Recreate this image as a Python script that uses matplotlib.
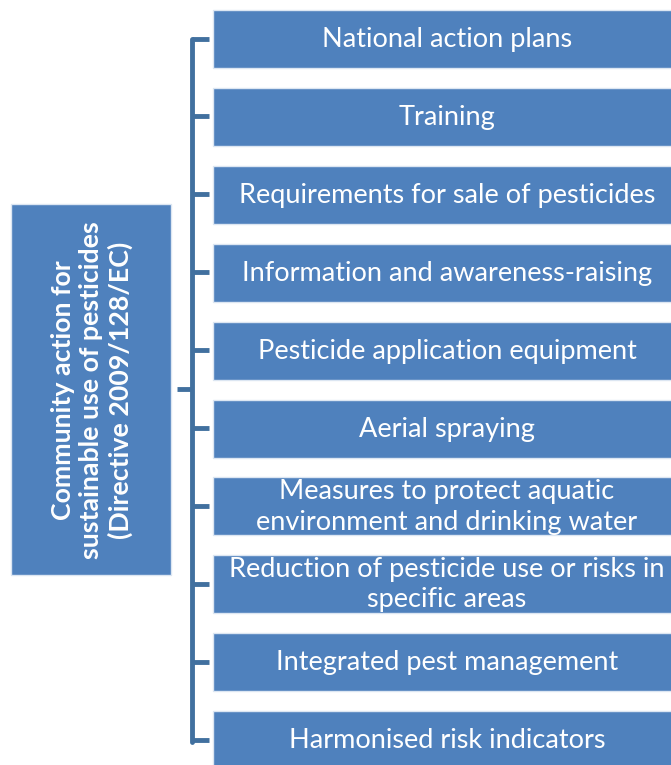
import matplotlib
matplotlib.use("Agg")
from matplotlib import pyplot as plt
from matplotlib.patches import Rectangle

plt.rcParams['font.family'] = ['Lato', 'DejaVu Sans']

# 数据
root_label = "Community action for\nsustainable use of pesticides\n(Directive 2009/128/EC)"
items = [
    "National action plans",
    "Training",
    "Requirements for sale of pesticides",
    "Information and awareness-raising",
    "Pesticide application equipment",
    "Aerial spraying",
    "Measures to protect aquatic\nenvironment and drinking water",
    "Reduction of pesticide use or risks in\nspecific areas",
    "Integrated pest management",
    "Harmonised risk indicators",
]

box_color = "#4F81BD"
edge_color = "#DCE6F2"
line_color = "#41709F"

W, H = 671, 765
fig = plt.figure(figsize=(W / 100, H / 100), dpi=100)
ax = fig.add_axes([0, 0, 1, 1])
ax.set_xlim(0, W)
ax.set_ylim(H, 0)
ax.axis("off")

# 右侧方框
top0, pitch, bh = 10, 77.9, 58
bx = 213
centers = []
for i, txt in enumerate(items):
    y = top0 + i * pitch
    ax.add_patch(Rectangle((bx, y), W - bx + 5, bh, facecolor=box_color,
                           edgecolor=edge_color, linewidth=1))
    ax.text(447, y + bh / 2 + 0.5, txt, color="white", fontsize=19.5,
            ha="center", va="center", linespacing=1.27)
    centers.append(y + bh / 2 - 0.5)

# 左侧方框
ax.add_patch(Rectangle((11, 204), 160, 371, facecolor=box_color,
                       edgecolor=edge_color, linewidth=1))
ax.text(92, 390, root_label, color="white", fontsize=19.3, fontweight="bold",
        ha="center", va="center", rotation=90, linespacing=1.22,
        multialignment="center")

# 连接线
vx = 192
ax.plot([vx, vx], [centers[0], centers[-1] + 2], color=line_color, lw=3.5,
        solid_capstyle="round", solid_joinstyle="round")
for c in centers:
    ax.plot([vx, 209], [c, c], color=line_color, lw=3.5, solid_capstyle="butt")
ax.plot([177, vx], [389, 389], color=line_color, lw=3.5, solid_capstyle="butt")

fig.savefig("out.png", dpi=100)
